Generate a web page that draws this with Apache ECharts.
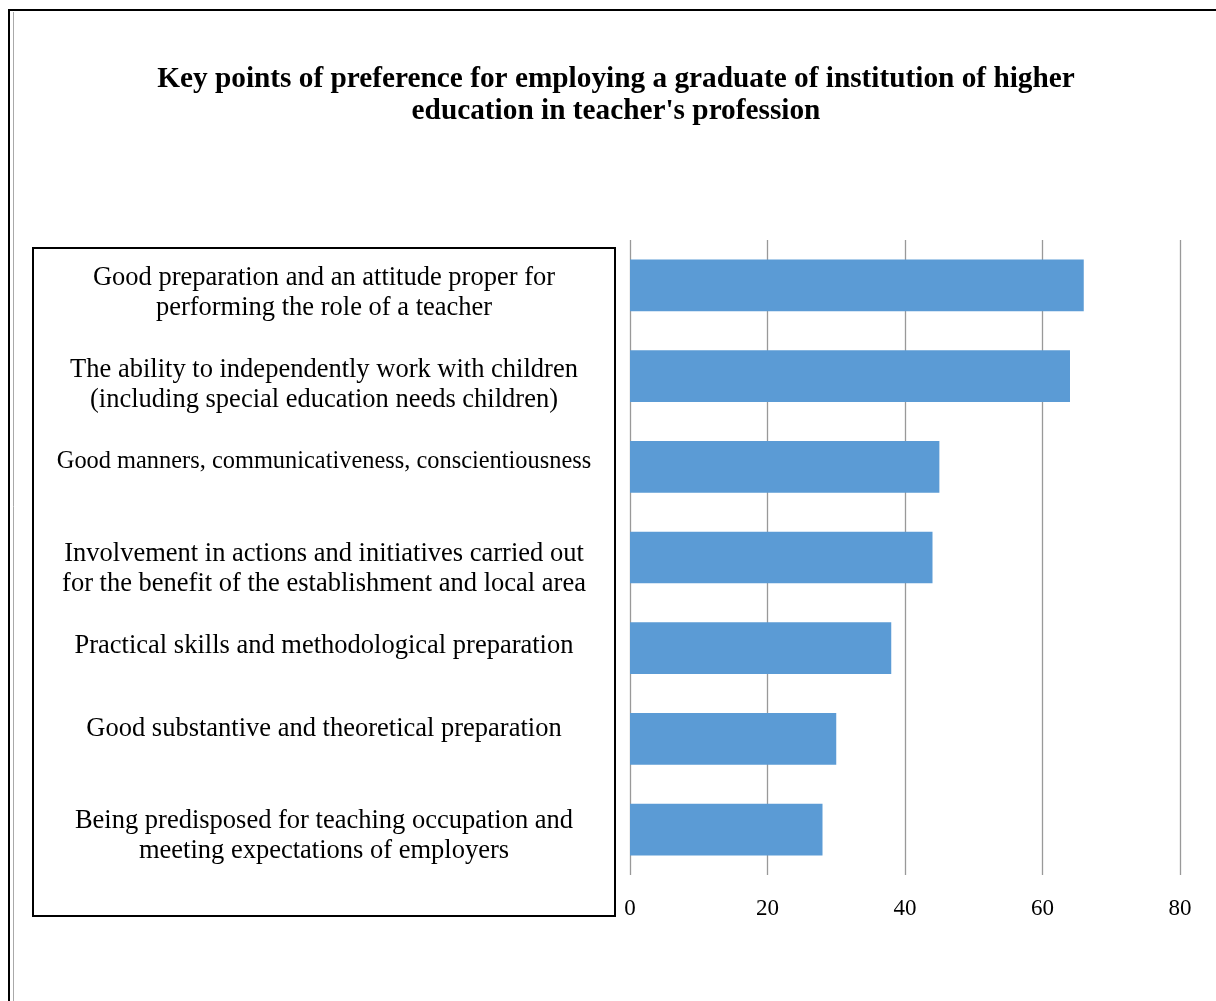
<!DOCTYPE html>
<html>
<head>
<meta charset="utf-8">
<script src="https://cdn.jsdelivr.net/npm/echarts@6/dist/echarts.min.js"></script>
<style>html,body{margin:0;padding:0;background:#fff;}#c{width:1216px;height:1001px;}</style>
</head>
<body>
<div id="c"></div>
<script>
const titleText = "Key points of preference for employing a graduate of institution of higher\neducation in teacher's profession";
const categories = [
  "Good preparation and an attitude proper for\nperforming the role of a teacher",
  "The ability to independently work with children\n(including special education needs children)",
  "Good manners, communicativeness, conscientiousness",
  "Involvement in actions and initiatives carried out\nfor the benefit of the establishment and local area",
  "Practical skills and methodological preparation",
  "Good substantive and theoretical preparation",
  "Being predisposed for teaching occupation and\nmeeting expectations of employers"
];
const values = [66, 64, 45, 44, 38, 30, 28];
const xTicks = [0, 20, 40, 60, 80];
// small vertical nudges of the label text relative to the bar centre (px, + = down)
const labelShift = [8, 9, -5, 12, -2, -10, 6];

const chart = echarts.init(document.getElementById('c'), null, {renderer: 'canvas'});
const serif = '"Liberation Serif", "Times New Roman", serif';

const rich = {
  t: {fontFamily: serif, fontSize: 26.5, lineHeight: 30, color: '#000', align: 'center'},
  s: {fontFamily: serif, fontSize: 24.4, lineHeight: 30, color: '#000', align: 'center'}
};
labelShift.forEach((d, i) => {
  rich['g' + i] = {fontSize: 1, lineHeight: Math.max(1, 2 * Math.abs(d))};
});

function labelFormatter(value, index) {
  const lines = String(value).split('\n');
  const key = (lines.length === 1 && value.length > 48) ? 's' : 't';
  let txt = lines.map(l => '{' + key + '|' + l + '}').join('\n');
  const d = labelShift[index];
  if (d > 0) txt = '{g' + index + '| }\n' + txt;
  else if (d < 0) txt = txt + '\n{g' + index + '| }';
  return txt;
}

chart.setOption({
  animation: false,
  backgroundColor: '#fff',
  title: {
    text: titleText,
    left: 611, top: 58, textAlign: 'center',
    textStyle: {fontFamily: serif, fontSize: 29.3, fontWeight: 'bold', color: '#000', lineHeight: 32}
  },
  grid: {left: 630, right: 36, top: 240, bottom: 126, containLabel: false, outerBoundsMode: 'none'},
  xAxis: {
    type: 'value', min: xTicks[0], max: xTicks[xTicks.length - 1], interval: 20,
    axisLine: {show: false}, axisTick: {show: false},
    splitLine: {show: true, lineStyle: {color: '#999', width: 1.3}},
    axisLabel: {fontFamily: serif, fontSize: 23, color: '#000', margin: 22}
  },
  yAxis: {
    type: 'category', inverse: true, data: categories,
    axisLine: {show: false}, axisTick: {show: false},
    axisLabel: {formatter: labelFormatter, rich: rich, fontFamily: serif, fontSize: 26.5, color: '#000', align: 'center', margin: 306, lineHeight: 30}
  },
  series: [{
    type: 'bar', data: values, barCategoryGap: '43%',
    itemStyle: {color: '#5b9bd5'}
  }],
  graphic: [
    {type: 'rect', shape: {x: 9, y: 10, width: 1400, height: 1200}, style: {fill: 'none', stroke: '#000', lineWidth: 2}, z: 10},
    {type: 'line', shape: {x1: 13.5, y1: 12, x2: 13.5, y2: 1001}, style: {stroke: '#aaa', lineWidth: 1}, z: 10},
    {type: 'rect', shape: {x: 33, y: 248, width: 582, height: 668}, style: {fill: 'none', stroke: '#000', lineWidth: 2}, z: 10}
  ]
});
</script>
</body>
</html>
